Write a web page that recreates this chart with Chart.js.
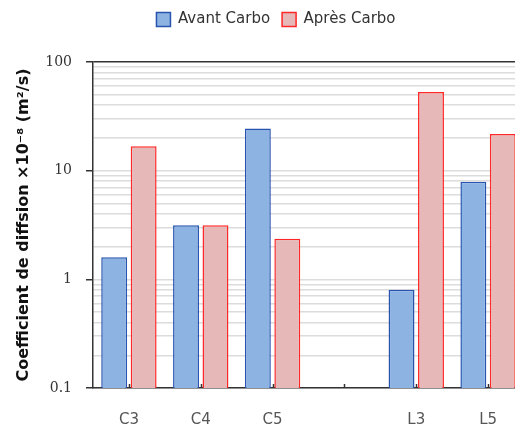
<!DOCTYPE html>
<html>
<head>
<meta charset="utf-8">
<script src="https://cdn.jsdelivr.net/npm/chart.js@4/dist/chart.umd.min.js"></script>
<style>
html, body { margin: 0; padding: 0; background: #fff; overflow: hidden; }
#wrap { width: 524px; height: 427px; }
</style>
</head>
<body>
<div id="wrap"><canvas id="graph"></canvas></div>
<script>
const labels = ["C3", "C4", "C5", "", "L3", "L5"];
const avantCarbo = [1.6, 3.15, 24.5, null, 0.8, 7.9];
const apresCarbo = [16.8, 3.15, 2.36, null, 53, 21.7];
const decades = [0.1, 1, 10, 100];

// petits traits vers le haut sur l'axe x
const innerTicks = {
    id: "innerTicks",
    afterDatasetsDraw(chart) {
        const x = chart.scales.x;
        const ctx = chart.ctx;
        ctx.save();
        ctx.strokeStyle = "#333";
        ctx.lineWidth = 1.5;
        for (let i = 0; i < labels.length; i++) {
            const px = Math.round(x.getPixelForTick(i)) + 0.5;
            ctx.beginPath();
            ctx.moveTo(px, chart.chartArea.bottom);
            ctx.lineTo(px, chart.chartArea.bottom - 4);
            ctx.stroke();
        }
        ctx.restore();
    }
};

// replace la legende en haut, un peu a droite
const shiftLegend = {
    id: "shiftLegend",
    afterLayout(chart) {
        const lg = chart.legend;
        const dy = lg.top;
        lg.left += 10;
        lg.right += 10;
        lg.top -= dy;
        lg.bottom -= dy;
    }
};

let ctx = document.getElementById("graph");
const data = {
    labels: labels,
    datasets: [{
        label: "Avant Carbo",
        data: avantCarbo,
        backgroundColor: "rgb(141,179,226)",
        borderColor: "rgb(40,84,176)",
        borderWidth: 1.5
    }, {
        label: "Après Carbo",
        data: apresCarbo,
        backgroundColor: "rgb(230,184,183)",
        borderColor: "rgb(255,40,40)",
        borderWidth: 1.5
    }]
};

const config = {
    type: "bar",
    data: data,
    options: {
        responsive: true,
        maintainAspectRatio: false,
        animation: false,
        layout: { padding: { left: 8, top: 0, right: 0, bottom: 0 } },
        datasets: { bar: { categoryPercentage: 0.82, barPercentage: 0.88 } },
        plugins: {
            tooltip: { enabled: false },
            legend: {
                position: "top",
                labels: {
                    boxWidth: 14,
                    boxHeight: 14,
                    padding: 12,
                    color: "#333",
                    font: { family: "DejaVu Sans", size: 15 }
                }
            }
        },
        scales: {
            x: {
                grid: { display: false },
                border: { color: "#333", width: 1.5 },
                ticks: { color: "#555", padding: 15, font: { family: "DejaVu Sans", size: 15 } },
                afterFit(scale) { scale.height = 39; }
            },
            y: {
                type: "logarithmic",
                min: 0.1,
                max: 100,
                afterBuildTicks(scale) {
                    const t = [];
                    decades.forEach(d => {
                        if (d === 100) { t.push({ value: 100 }); return; }
                        for (let k = 1; k < 10; k++) t.push({ value: +(d * k).toPrecision(3) });
                    });
                    scale.ticks = t;
                },
                afterFit(scale) { scale.width = 85; scale.paddingTop = 62; },
                grid: {
                    color: c => (c.tick && c.tick.value === 100) ? "#333" : "#dcdcdc",
                    lineWidth: 1.5,
                    tickColor: c => (c.tick && decades.includes(c.tick.value)) ? "#333" : "rgba(0,0,0,0)",
                    tickLength: 7
                },
                border: { color: "#333", width: 1.5 },
                ticks: {
                    autoSkip: false,
                    padding: 14,
                    color: "#333",
                    font: { family: "DejaVu Serif", size: 14 },
                    callback: v => decades.includes(v) ? String(v) : ""
                },
                title: {
                    display: true,
                    text: "Coefficient de diffsion ×10⁻⁸ (m²/s)",
                    color: "#111",
                    padding: { top: 6, bottom: 4 },
                    font: { family: "DejaVu Sans", size: 16, weight: "bold" }
                }
            }
        }
    },
    plugins: [innerTicks, shiftLegend]
};

new Chart(ctx, config);
</script>
</body>
</html>
